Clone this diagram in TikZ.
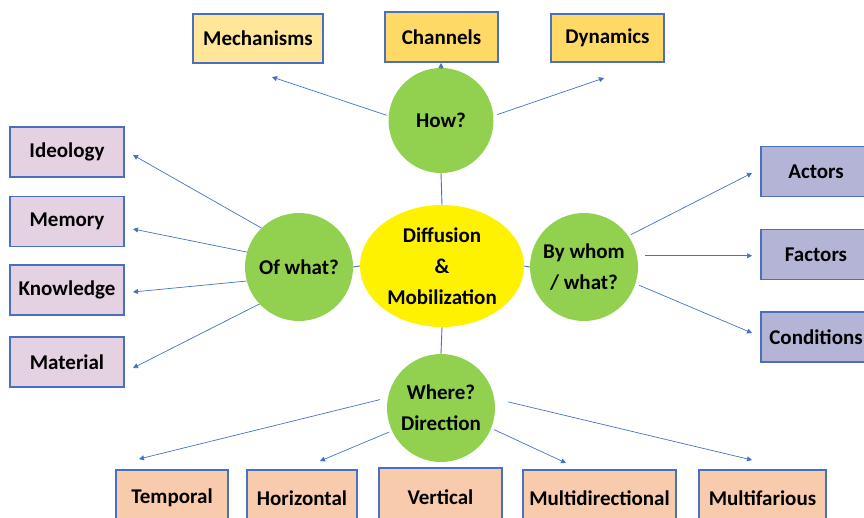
\documentclass[tikz,border=0pt]{standalone}
\usepackage{fontspec}
\setmainfont{Carlito}
\usetikzlibrary{shapes.geometric,arrows.meta}
\definecolor{edgeblue}{HTML}{4472C4}
\definecolor{boxline}{HTML}{4A6FBE}
\definecolor{ylight}{HTML}{FFE699}
\definecolor{ydark}{HTML}{FFD966}
\definecolor{purp}{HTML}{E4D2E3}
\definecolor{lav}{HTML}{B4B5D6}
\definecolor{peach}{HTML}{F8CBAD}
\definecolor{grn}{HTML}{92D050}
\begin{document}
\begin{tikzpicture}[x=1pt,y=-1pt,
  txt/.style={font=\fontsize{21}{31}\selectfont\bfseries, align=center, inner sep=0pt},
  box/.style={txt, draw=boxline, line width=1.1pt, rectangle},
  qcircle/.style={txt, circle, fill=grn, minimum size=108pt},
  arr/.style={draw=edgeblue, line width=0.7pt, -{Triangle[length=5pt,width=5pt]}},
  link/.style={draw=edgeblue, line width=0.9pt}]
\useasboundingbox (0,0) rectangle (864,517);
% top boxes
\node[box, fill=ylight, minimum width=130pt, minimum height=49pt] (mech) at (258,38.5) {Mechanisms};
\node[box, fill=ydark, minimum width=113pt, minimum height=50pt] (chan) at (441.5,37) {Channels};
\node[box, fill=ydark, minimum width=113pt, minimum height=48pt] (dyn) at (607.5,38) {Dynamics};
% left boxes
\node[box, fill=purp, minimum width=114pt, minimum height=50pt] (ideo) at (67,152) {Ideology};
\node[box, fill=purp, minimum width=114pt, minimum height=50pt] (memo) at (67,221.5) {Memory};
\node[box, fill=purp, minimum width=114pt, minimum height=50pt] (know) at (67,290) {Knowledge};
\node[box, fill=purp, minimum width=114pt, minimum height=50pt] (mate) at (67,362) {Material};
% right boxes
\node[box, fill=lav, minimum width=110pt, minimum height=50pt] (acto) at (816,171.5) {Actors};
\node[box, fill=lav, minimum width=110pt, minimum height=50pt] (fact) at (816,254.5) {Factors};
\node[box, fill=lav, minimum width=110pt, minimum height=50pt] (cond) at (816,337) {Conditions};
% bottom boxes
\node[box, fill=peach, minimum width=112pt, minimum height=56pt] (temp) at (172,498) {Temporal};
\node[box, fill=peach, minimum width=110pt, minimum height=56pt] (hori) at (302,498) {Horizontal};
\node[box, fill=peach, minimum width=123pt, minimum height=58pt] (vert) at (440.5,497) {Vertical};
\node[box, fill=peach, minimum width=153pt, minimum height=56pt] (mdir) at (599.5,498) {Multidirectional};
\node[box, fill=peach, minimum width=127pt, minimum height=56pt] (mfar) at (762.5,498) {Multifarious};
% circles
\node[qcircle, minimum size=105pt] (how) at (441,120.5) {How?};
\node[qcircle] (ofwhat) at (299,267) {Of what?};
\node[qcircle] (bywhom) at (584,267) {By whom\\/ what?};
\node[qcircle] (where) at (441,408) {Where?\\Direction};
\node[txt, ellipse, fill=yellow, inner sep=0pt, minimum width=164pt, minimum height=122pt] (core) at (442,266) {Diffusion\\\&\\Mobilization};
% links to core
\draw[link] (how.south) -- (core.north);
\draw[link] (ofwhat.east) -- (core.west);
\draw[link] (core.east) -- (bywhom.west);
\draw[link] (core.south) -- (where.north);
% arrow tips
\coordinate (tmech) at (272,77);
\coordinate (tchan) at (441,63);
\coordinate (tdyn) at (604,78);
\coordinate (tideo) at (133,155);
\coordinate (tmemo) at (133,229);
\coordinate (tknow) at (133,292);
\coordinate (tmate) at (133,368);
\coordinate (tacto) at (752,173);
\coordinate (tfact) at (752,255);
\coordinate (tcond) at (752,333);
\coordinate (ttemp) at (139,459);
\coordinate (thori) at (320,461);
\coordinate (tmdir) at (566,463);
\coordinate (tmfar) at (752,460);
% arrows
\draw[arr, shorten <=2pt] (how.175) -- (tmech);
\draw[arr] (how.north) -- (tchan);
\draw[arr, shorten <=4pt] (how.5) -- (tdyn);
\draw[arr] (ofwhat.134) -- (tideo);
\draw[arr] (ofwhat.164) -- (tmemo);
\draw[arr] (ofwhat.195) -- (tknow);
\draw[arr] (ofwhat.223) -- (tmate);
\draw[arr, shorten <=3pt] (bywhom.35) -- (tacto);
\draw[arr, shorten <=8pt] (bywhom.12) -- (bywhom.12 -| tfact);
\draw[arr, shorten <=4pt] (bywhom.342) -- (tcond);
\draw[arr, shorten <=8pt] (where.169) -- (ttemp);
\draw[arr, shorten <=3pt] (where.205) -- (thori);
\draw[arr, shorten <=3pt] (where.338) -- (tmdir);
\draw[arr, shorten <=14pt] (where.10) -- (tmfar);
\end{tikzpicture}
\end{document}
